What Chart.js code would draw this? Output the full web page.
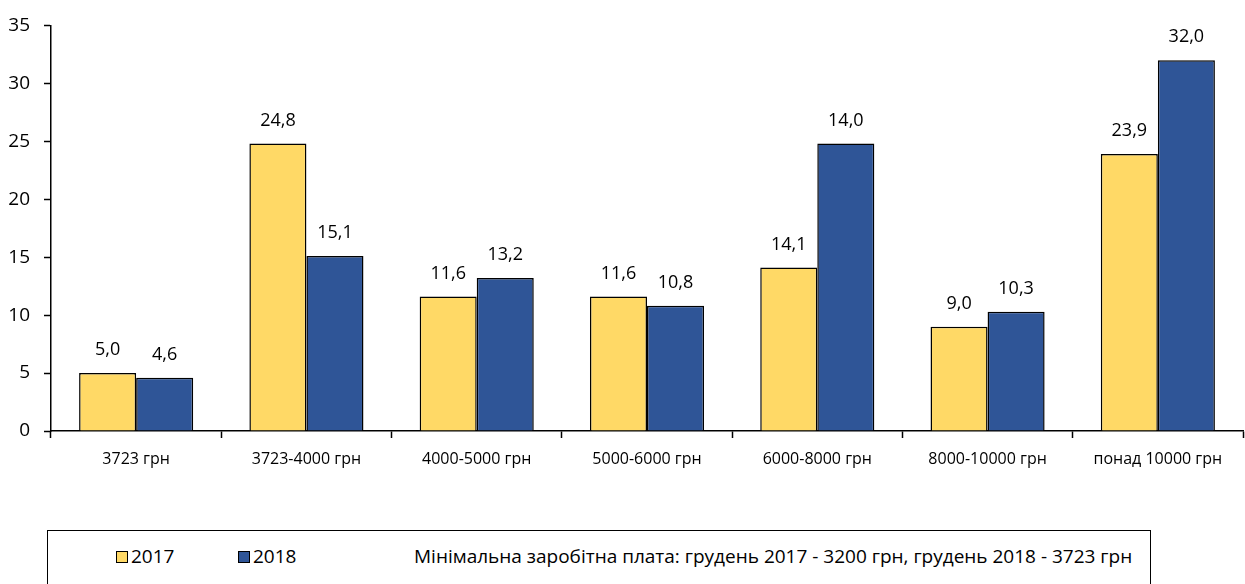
<!DOCTYPE html>
<html>
<head>
<meta charset="utf-8">
<script src="https://cdn.jsdelivr.net/npm/chart.js@4.4.1/dist/chart.umd.min.js"></script>
<style>
    body { margin: 0; background: #fff; font-family: "Open Sans", "Noto Sans", sans-serif; }
    #wrap { position: relative; width: 1245px; height: 584px; overflow: hidden; }
    #chartBox { position: absolute; left: 0; top: 0; width: 1245px; height: 480px; }
    #legendBox {
        position: absolute; left: 47px; top: 530px; width: 1104px; height: 70px;
        border: 1.5px solid #000; box-sizing: border-box; font-size: 19px; color: #000;
    }
    .item { position: absolute; top: 12px; white-space: nowrap; }
    .sw { display: inline-block; width: 10px; height: 10px; border: 1px solid #000; margin-right: 3px; vertical-align: 0px; }
</style>
</head>
<body>
<div id="wrap">
    <div id="chartBox"><canvas id="salaryChart"></canvas></div>
    <div id="legendBox">
        <span class="item" style="left:68px"><span class="sw" style="background:#FFD966"></span>2017</span>
        <span class="item" style="left:190px"><span class="sw" style="background:#2F5597"></span>2018</span>
        <span class="item" style="left:366px">Мінімальна заробітна плата: грудень 2017 - 3200 грн, грудень 2018 - 3723 грн</span>
    </div>
</div>
<script>
// Категорії заробітної плати
const categories = ["3723 грн", "3723-4000 грн", "4000-5000 грн", "5000-6000 грн", "6000-8000 грн", "8000-10000 грн", "понад 10000 грн"];

// Висота стовпців, як на рисунку
const values2017 = [5.0, 24.8, 11.6, 11.6, 14.1, 9.0, 23.9];
const values2018 = [4.6, 15.1, 13.2, 10.8, 24.8, 10.3, 32.0];

// Підписи над стовпцями
const labels2017 = ["5,0", "24,8", "11,6", "11,6", "14,1", "9,0", "23,9"];
const labels2018 = ["4,6", "15,1", "13,2", "10,8", "14,0", "10,3", "32,0"];

const yTicks = [0, 5, 10, 15, 20, 25, 30, 35];

const FONT = '"Open Sans", "Noto Sans", sans-serif';

// Плагін для підписів значень
const valueLabels = {
    id: 'valueLabels',
    afterDatasetsDraw(chart) {
        const ctx = chart.ctx;
        const texts = [labels2017, labels2018];
        ctx.save();
        ctx.font = '18px ' + FONT;
        ctx.fillStyle = '#000';
        ctx.textAlign = 'center';
        ctx.textBaseline = 'bottom';
        chart.data.datasets.forEach((ds, i) => {
            chart.getDatasetMeta(i).data.forEach((bar, j) => {
                ctx.fillText(texts[i][j], bar.x, bar.y - 14);
            });
        });
        ctx.restore();
    }
};

const ctx = document.getElementById('salaryChart').getContext('2d');
new Chart(ctx, {
    type: 'bar',
    data: {
        labels: categories,
        datasets: [
            {
                label: '2017',
                data: values2017,
                backgroundColor: '#FFD966',
                borderColor: '#000',
                borderWidth: 1.5,
                barPercentage: 1,
                categoryPercentage: 0.67
            },
            {
                label: '2018',
                data: values2018,
                backgroundColor: '#2F5597',
                borderColor: '#000',
                borderWidth: 1.5,
                barPercentage: 1,
                categoryPercentage: 0.67
            }
        ]
    },
    options: {
        responsive: true,
        maintainAspectRatio: false,
        animation: false,
        layout: { padding: { top: 24, left: 0, right: 2, bottom: 0 } },
        scales: {
            x: {
                offset: true,
                afterFit: axis => { axis.height = 49; },
                grid: { offset: true, drawOnChartArea: false, tickLength: 7, color: '#000', tickWidth: 1.5 },
                border: { color: '#000', width: 1.5 },
                ticks: { color: '#000', font: { family: FONT, size: 16 }, padding: 12, maxRotation: 0 }
            },
            y: {
                min: 0,
                max: 35,
                afterFit: axis => { axis.width = 51; },
                afterBuildTicks: axis => { axis.ticks = yTicks.map(v => ({ value: v })); },
                grid: { drawOnChartArea: false, tickLength: 7, color: '#000', tickWidth: 1.5 },
                border: { color: '#000', width: 1.5 },
                ticks: { color: '#000', font: { family: FONT, size: 19 }, padding: 14 }
            }
        },
        plugins: {
            legend: { display: false },
            tooltip: { enabled: false }
        }
    },
    plugins: [valueLabels]
});
</script>
</body>
</html>
